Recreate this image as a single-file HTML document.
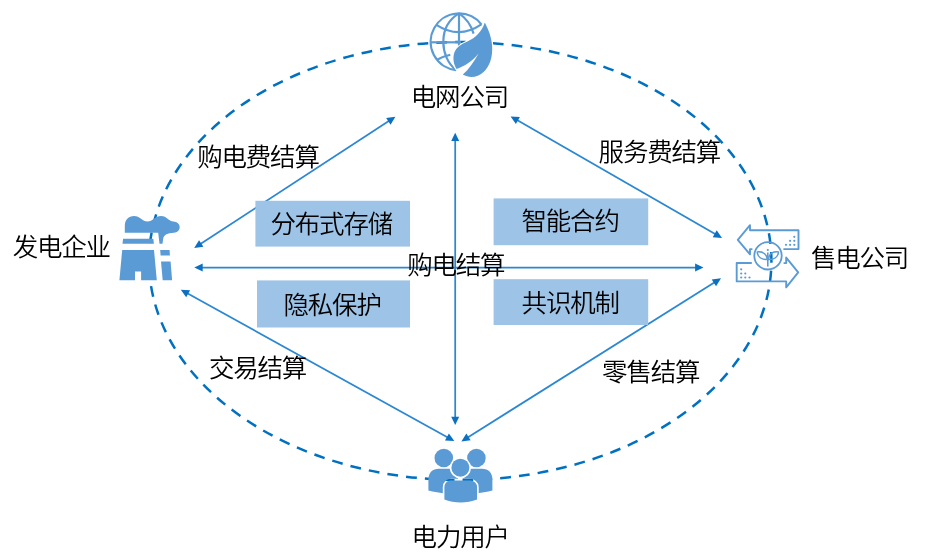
<!DOCTYPE html>
<html lang="zh-CN">
<head>
<meta charset="utf-8">
<title>电力交易结算</title>
<style>
html,body{margin:0;padding:0;background:#fff;}
body{width:925px;height:560px;overflow:hidden;position:relative;}
svg{position:absolute;left:0;top:0;display:block;}
text{font-family:"Liberation Sans","Noto Sans CJK SC",sans-serif;font-size:25px;letter-spacing:-1.18px;font-weight:350;fill:#000;}
.ln{stroke:#2c87d2;stroke-width:1.75;fill:none;}
.hd{fill:#0b70c1;stroke:none;}
.bx{fill:#9dc3e6;}
.ic{fill:#5b9bd5;}
.is{fill:none;stroke:#5b9bd5;}
</style>
</head>
<body>
<svg width="925" height="560" viewBox="0 0 925 560">
<!-- outer dashed ellipse -->
<path id="ring" d="M149,261 A311.2,219 0 0 1 771.4,261 A311.2,219 0 0 1 149,261 Z" fill="none" stroke="#0070c0" stroke-width="2.5" stroke-dasharray="10.79 8.09" stroke-dashoffset="1.0"/>
<!-- arrows -->
<g id="arrows">
<line class="ln" x1="200.40" y1="244.06" x2="389.20" y2="120.84"/>
<path class="hd" d="M194.20,248.10 L203.42,246.86 L199.05,240.16 Z"/>
<path class="hd" d="M395.40,116.80 L390.55,124.74 L386.18,118.04 Z"/>
<line class="ln" x1="517.01" y1="120.09" x2="715.59" y2="234.31"/>
<path class="hd" d="M510.60,116.40 L515.89,124.06 L519.88,117.12 Z"/>
<path class="hd" d="M722.00,238.00 L712.72,237.28 L716.71,230.34 Z"/>
<line class="ln" x1="201.70" y1="267.50" x2="696.10" y2="267.50"/>
<path class="hd" d="M194.30,267.50 L202.70,271.50 L202.70,263.50 Z"/>
<path class="hd" d="M703.50,267.50 L695.10,271.50 L695.10,263.50 Z"/>
<line class="ln" x1="455.20" y1="140.10" x2="455.20" y2="417.70"/>
<path class="hd" d="M455.20,132.70 L451.20,141.10 L459.20,141.10 Z"/>
<path class="hd" d="M455.20,425.10 L451.20,416.70 L459.20,416.70 Z"/>
<line class="ln" x1="187.28" y1="293.28" x2="447.82" y2="437.42"/>
<path class="hd" d="M180.80,289.70 L186.21,297.27 L190.09,290.27 Z"/>
<path class="hd" d="M454.30,441.00 L445.01,440.43 L448.89,433.43 Z"/>
<line class="ln" x1="714.73" y1="282.24" x2="467.67" y2="437.46"/>
<path class="hd" d="M721.00,278.30 L711.76,279.38 L716.02,286.16 Z"/>
<path class="hd" d="M461.40,441.40 L466.38,433.54 L470.64,440.32 Z"/>
</g>
<!-- boxes -->
<rect class="bx" x="255.4" y="200.8" width="154.6" height="45.8"/>
<rect class="bx" x="493.6" y="198.4" width="154.6" height="46.8"/>
<rect class="bx" x="257" y="280.4" width="153" height="47.1"/>
<rect class="bx" x="493.6" y="279.2" width="154.6" height="45.8"/>
<!-- icon: globe with leaf (电网公司) -->
<g id="globe">
<g class="is" stroke-width="2.2" stroke-linecap="butt">
<path d="M481.6,24.6 A28.4,28.4 0 1 0 456.2,70.1"/>
<path d="M459,13.4 V46"/>
<path d="M459,13.4 C448,20 443.3,31 443.3,42 C443.3,53 448,64 456.2,70.1"/>
<path d="M459,13.4 C466,18 471,25 473.6,33.6"/>
<path d="M436.4,24.8 Q459,39.6 481.4,24.4"/>
<path d="M430.6,42.3 H461"/>
<path d="M437,59.8 Q443,56.5 450.3,54.8"/>
</g>
<path class="ic" stroke="#fff" stroke-width="2.6" paint-order="stroke" stroke-linejoin="round" d="M484.8,22.6 C488.5,30 491.5,37 492.1,46 C492.8,57.5 489.8,66.3 483.3,72.3 C477.8,77.2 470,78.9 462.8,74.6 C468.5,69.5 474,62 478.7,53.2 C473,60.5 465,66 456.6,69 C453.6,64.5 452.6,58.4 454.2,53 C456.3,47.4 461.4,44.2 467.4,41.6 C475,38.3 481.8,32 484.8,22.6 Z"/>
</g>
<!-- icon: power plant (发电企业) -->
<g id="plant" class="ic">
<path d="M124.8,232.7 V226 C124.8,219.6 128.6,215.9 134,215.9 C140,215.9 142.3,221.4 147.5,221.4 C152.7,221.4 155,215.9 161,215.9 C167,215.9 168.5,221.2 173.5,221.4 C177,221.5 179.7,223.8 179.7,227.1 C179.7,230.4 177.2,232.7 174,232.7 C167.5,232.9 163.8,234.4 163.1,239.2 L162.5,243.7 H159.5 L158.2,232.7 Z"/>
<path d="M123.1,238.8 H153.3 L153.9,243.7 H122.5 Z"/>
<path d="M122.2,249.9 H154 L156.8,280.2 H141.1 V271.5 H135 V280.2 H119.4 Z"/>
<path d="M160.2,249.9 H169.6 L169.9,255.6 H160.6 Z"/>
<path d="M161,261.6 H170.6 L172.1,280.2 H162.7 Z"/>
</g>
<!-- icon: energy trading (售电公司) -->
<g id="trade" class="is" stroke-width="1.9" stroke-linejoin="round">
<path d="M783.4,249.1 H798.5 V230.3 H750 V225.2 L737.8,239.8 L750,254.3 V249.1 H752.4"/>
<path d="M751.8,263 H736.7 V281.4 H786.2 V287.4 L798.2,272.3 L786.2,257.6 V263.1 H783.6"/>
<circle cx="768" cy="255.8" r="13.7" stroke-width="1.8"/>
<path d="M767.8,252.6 V266.6" stroke-width="1.6"/>
<path d="M767.4,259.4 C761.5,259.8 757.6,257 757.2,251.9 C762.5,251.4 766.6,253.6 767.4,259.4 Z" stroke-width="1.5"/>
<path d="M768.3,259.4 C774.2,259.8 778.1,257 778.5,251.9 C773.2,251.4 769.1,253.6 768.3,259.4 Z" stroke-width="1.5"/>
<g fill="#5b9bd5" stroke="none">
<circle cx="767.8" cy="250" r="1.1"/>
<circle cx="794.3" cy="236.8" r="1.1"/><circle cx="790.1" cy="240.8" r="1.1"/><circle cx="794.3" cy="240.8" r="1.1"/>
<circle cx="786" cy="244.8" r="1.1"/><circle cx="790.1" cy="244.8" r="1.1"/><circle cx="794.3" cy="244.8" r="1.1"/>
<circle cx="741.2" cy="269.3" r="1.1"/><circle cx="741.2" cy="273.5" r="1.1"/><circle cx="745.3" cy="273.5" r="1.1"/>
<circle cx="741.2" cy="277.5" r="1.1"/><circle cx="745.3" cy="277.5" r="1.1"/><circle cx="749.5" cy="277.5" r="1.1"/>
</g>
</g>
<!-- icon: users (电力用户) -->
<g id="users" class="ic">
<mask id="um" maskUnits="userSpaceOnUse" x="420" y="440" width="80" height="70">
<rect x="420" y="440" width="80" height="70" fill="#fff"/>
<g fill="#000" stroke="#000" stroke-width="3.2">
<circle cx="460.4" cy="467.7" r="9"/>
<path d="M444.4,499.6 V487.2 C444.4,482.8 447.4,480.4 451.6,480.4 H469.4 C473.6,480.4 477.1,482.8 477.1,487.2 V499.6 C472,501.6 466,502.6 460.7,502.6 C455,502.6 449,501.6 444.4,499.6 Z"/>
</g>
</mask>
<g mask="url(#um)">
<circle cx="443.8" cy="458" r="9.3"/>
<circle cx="476.4" cy="458" r="9.3"/>
<path d="M428.4,490.4 V479.6 C428.4,472.6 432.6,468.8 438.8,468.8 H449 C455,468.8 458,473 458,479 V493.4 H446 C440,492.8 433.5,491.7 428.4,490.4 Z"/>
<path d="M492.4,490.4 V479.6 C492.4,472.6 488.2,468.8 482,468.8 H471.8 C465.8,468.8 462.8,473 462.8,479 V493.4 H474.8 C480.8,492.8 487.3,491.7 492.4,490.4 Z"/>
</g>
<circle cx="460.4" cy="467.7" r="9"/>
<path d="M444.4,499.6 V487.2 C444.4,482.8 447.4,480.4 451.6,480.4 H469.4 C473.6,480.4 477.1,482.8 477.1,487.2 V499.6 C472,501.6 466,502.6 460.7,502.6 C455,502.6 449,501.6 444.4,499.6 Z"/>
</g>
<!-- labels -->
<g id="labels" style="opacity:0.999">
<text id="t1" transform="translate(410.8 105.7) scale(1.02 1)">电网公司</text>
<text id="t2" transform="translate(12.7 256.3) scale(1.02 1)">发电企业</text>
<text id="t3" transform="translate(810.9 266.5) scale(1.02 1)">售电公司</text>
<text id="t4" transform="translate(411.6 545.6) scale(1.02 1)">电力用户</text>
<text id="t5" transform="translate(197.2 166.3) scale(1.02 1)">购电费结算</text>
<text id="t6" transform="translate(598.6 160.8) scale(1.02 1)">服务费结算</text>
<text id="t7" transform="translate(208.9 376.6) scale(1.02 1)">交易结算</text>
<text id="t8" transform="translate(602.1 381.0) scale(1.02 1)">零售结算</text>
<text id="t9" transform="translate(407.2 274.3) scale(1.02 1)">购电结算</text>
<text id="t10" transform="translate(270.5 232.5) scale(1.02 1)">分布式存储</text>
<text id="t11" transform="translate(521.5 230.0) scale(1.02 1)">智能合约</text>
<text id="t12" transform="translate(283.5 314.0) scale(1.02 1)">隐私保护</text>
<text id="t13" transform="translate(521.6 311.5) scale(1.02 1)">共识机制</text>
</g>
</svg>
</body>
</html>
